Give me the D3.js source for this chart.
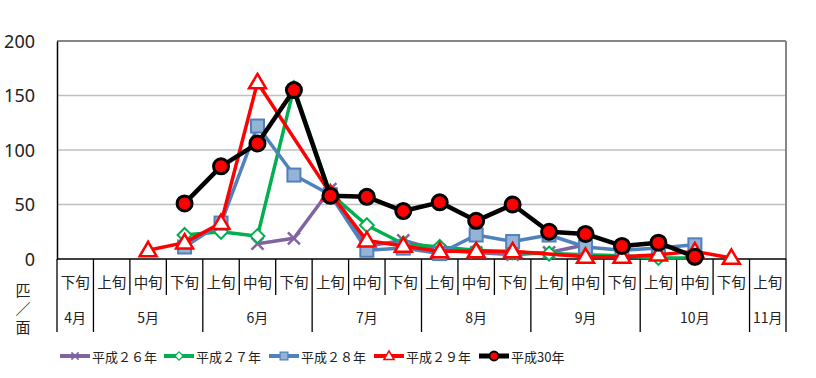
<!DOCTYPE html>
<html><head><meta charset="utf-8">
<script src="https://cdn.jsdelivr.net/npm/d3@7"></script>
<style>
html,body{margin:0;padding:0;background:#fff;}
svg{display:block;font-family:"Noto Sans CJK JP","Noto Sans",sans-serif;}
</style></head>
<body><svg id="c" width="816" height="378"></svg>
<script>
// ---- data ----
const dekads = ["下旬","上旬","中旬","下旬","上旬","中旬","下旬","上旬","中旬","下旬","上旬","中旬","下旬","上旬","中旬","下旬","上旬","中旬","下旬","上旬"];
const monthLabels = ["4月","5月","6月","7月","8月","9月","10月","11月"];
const monthSpans = [1,3,3,3,3,3,3,1];
const yTicks = [0,50,100,150,200];
const seriesNames = ["平成２６年","平成２７年","平成２８年","平成２９年","平成30年"];
const h26 = [null,null,null,null,null,14,19,64,12,17,8,6,4,6,13,null,null,null,null,null];
const h27 = [null,null,null,22,25,21,157,60,31,14,11,8,6,5,4,3,1,1,null,null];
const h28 = [null,null,null,11,33,122,77,59,8,10,5,22,16,22,11,8,10,13,null,null];
const h29 = [null,null,8,15,33,162,null,60,17,12,7,7,7,null,2,2,4,7,1,null];
const h30 = [null,null,null,51,85,106,155,58,57,44,52,35,50,25,23,12,15,2,null,null];
const seriesValues = [h26,h27,h28,h29,h30];

// ---- layout ----
const L=57, R=786, T=41, B=259;
const svg = d3.select("#c");
const idx = d3.range(dekads.length);
const x = d3.scaleBand().domain(idx).range([L,R]).padding(0);
const y = d3.scaleLinear().domain([0,200]).range([B,T]);
const cx = i => x(i)+x.bandwidth()/2;

// gridlines
svg.append("g").selectAll("line").data(yTicks.filter(v=>v>0 && v<200)).join("line")
  .attr("x1",L).attr("x2",R).attr("y1",d=>y(d)).attr("y2",d=>y(d))
  .attr("stroke","#bfbfbf").attr("stroke-width",1.3);
// border top/right
svg.append("line").attr("x1",L).attr("x2",R).attr("y1",y(200)).attr("y2",y(200)).attr("stroke","#868686").attr("stroke-width",2);
svg.append("line").attr("x1",R).attr("x2",R).attr("y1",T).attr("y2",B).attr("stroke","#868686").attr("stroke-width",2);

// y axis
const yAxis = d3.axisLeft(y).tickValues(yTicks).tickSize(0).tickPadding(0);
const ya = svg.append("g").attr("transform",`translate(${L},0)`).call(yAxis);
ya.select(".domain").attr("stroke","#000").attr("stroke-width",1.5);
ya.selectAll("text").attr("x",-22).attr("font-size",18).attr("fill","#222")
  .attr("font-family","'Noto Sans',sans-serif").attr("dy","0.35em");

// x axis line
svg.append("line").attr("x1",L).attr("x2",R).attr("y1",B).attr("y2",B).attr("stroke","#000").attr("stroke-width",1.5);

// category separators
const bounds = d3.range(dekads.length+1).map(i=> i<dekads.length ? x(i) : R);
const monthBounds = [0]; monthSpans.reduce((a,s)=>{monthBounds.push(a+s);return a+s;},0);
svg.append("g").selectAll("line").data(d3.range(dekads.length+1)).join("line")
  .attr("x1",i=>bounds[i]).attr("x2",i=>bounds[i])
  .attr("y1",B).attr("y2",i=> monthBounds.includes(i)?332:295)
  .attr("stroke","#000").attr("stroke-width",1.3);

// dekad labels
svg.append("g").selectAll("text").data(idx).join("text")
  .attr("x",i=>cx(i)).attr("y",288).attr("text-anchor","middle")
  .attr("font-size",14.5).attr("fill","#222").text(i=>dekads[i]);
// month labels
svg.append("g").selectAll("text").data(monthLabels).join("text")
  .attr("x",(d,j)=> (bounds[monthBounds[j]]+bounds[monthBounds[j+1]])/2)
  .attr("y",323).attr("text-anchor","middle").attr("font-size",14).attr("fill","#222").text(d=>d);

// unit label
const unit = svg.append("text").attr("text-anchor","middle").attr("font-size",15).attr("fill","#222");
["匹","／","面"].forEach((t,k)=>unit.append("tspan").attr("x",23).attr("y",296+k*18.5).text(t));

// series styles
const styles = [
  {color:"#8064a2", w:3.5, marker:"x"},
  {color:"#00b050", w:3.5, marker:"diamond"},
  {color:"#4f81bd", w:3.5, marker:"square"},
  {color:"#ff0000", w:3.5, marker:"triangle"},
  {color:"#000000", w:4.5, marker:"circle"}
];
function drawMarker(g, type, px, py, scale){
  const s = scale||1;
  if(type==="x"){
    const r=6*s;
    g.append("path").attr("d",`M${px-r},${py-r}L${px+r},${py+r}M${px-r},${py+r}L${px+r},${py-r}`)
      .attr("stroke","#8064a2").attr("stroke-width",2.5*s).attr("fill","none");
  } else if(type==="diamond"){
    const r=7*s;
    g.append("path").attr("d",`M${px},${py-r}L${px+r},${py}L${px},${py+r}L${px-r},${py}Z`)
      .attr("fill","#fff").attr("stroke","#00b050").attr("stroke-width",2*s);
  } else if(type==="square"){
    const r=6.5*s;
    g.append("rect").attr("x",px-r).attr("y",py-r).attr("width",2*r).attr("height",2*r)
      .attr("fill","#95b3d7").attr("stroke","#4f81bd").attr("stroke-width",2*s);
  } else if(type==="triangle"){
    const r=8.5*s;
    g.append("path").attr("d",`M${px},${py-r}L${px+r},${py+r*0.7}L${px-r},${py+r*0.7}Z`)
      .attr("fill","#fff").attr("stroke","#ff0000").attr("stroke-width",2.5*s);
  } else if(type==="circle"){
    g.append("circle").attr("cx",px).attr("cy",py).attr("r",7.5*s)
      .attr("fill","#ff0000").attr("stroke","#000").attr("stroke-width",3*s);
  }
}
const line = d3.line().x(d=>cx(d.i)).y(d=>y(d.v));
seriesValues.forEach((vals,k)=>{
  const pts = vals.map((v,i)=>({i,v})).filter(d=>d.v!==null);
  const g = svg.append("g");
  g.append("path").attr("d",line(pts)).attr("fill","none")
    .attr("stroke",styles[k].color).attr("stroke-width",styles[k].w).attr("stroke-linejoin","round");
  pts.forEach(d=>drawMarker(g,styles[k].marker,cx(d.i),y(d.v),1));
});

// legend
const legX = [60,164,269,374,479];
const legY = 356;
seriesNames.forEach((n,k)=>{
  const g = svg.append("g");
  g.append("line").attr("x1",legX[k]).attr("x2",legX[k]+30).attr("y1",legY).attr("y2",legY)
    .attr("stroke",styles[k].color).attr("stroke-width",styles[k].w+0.5);
  drawMarker(g,styles[k].marker,legX[k]+15,legY,0.6);
  g.append("text").attr("x",legX[k]+32).attr("y",legY+1).attr("dy","0.36em")
    .attr("font-size",13).attr("fill","#222").text(n);
});
</script></body></html>
